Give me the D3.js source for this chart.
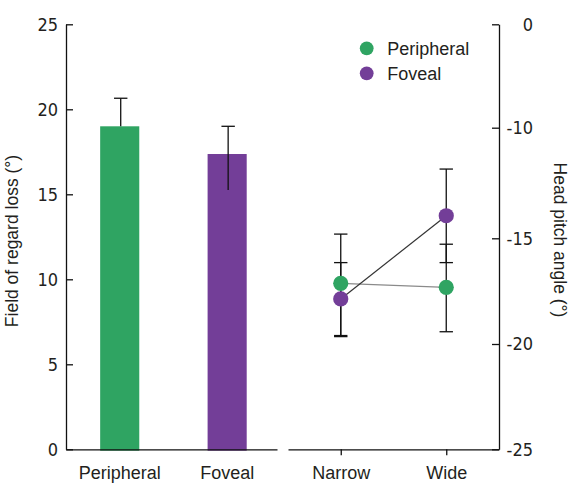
<!DOCTYPE html>
<html>
<head>
<meta charset="utf-8">
<script src="https://cdn.jsdelivr.net/npm/d3@7/dist/d3.min.js"></script>
<style>
  html, body { margin: 0; padding: 0; background: #fff; }
  svg { display: block; font-family: "Liberation Sans", Arial, sans-serif; }
  text { fill: #231f20; }
</style>
</head>
<body>
<svg id="chart" width="575" height="491"></svg>
<script>
// ---- Data ----
const barCategories = ["Peripheral", "Foveal"];
const barValues = [19.0, 17.37];
const barErrHigh = [20.65, 19.0];
const barErrLow = [19.0, 15.25];

const conditions = ["Narrow", "Wide"];
const seriesNames = ["Peripheral", "Foveal"];
const peripheralPitch = [-17.13, -17.32];
const peripheralHigh = [-14.81, -15.28];
const peripheralLow = [-19.6, -19.42];
const fovealPitch = [-17.87, -13.98];
const fovealHigh = [-16.15, -11.87];
const fovealLow = [-19.65, -16.15];

const leftTicks = [0, 5, 10, 15, 20, 25];
const rightTicks = [0, -10, -15, -20, -25];

const colors = { Peripheral: "#2fa462", Foveal: "#733e98" };
const lineColors = { Peripheral: "#8a8a8a", Foveal: "#333333" };

// ---- Layout ----
const svg = d3.select("#chart");
const yTop = 24.3, yBottom = 449.3;
const leftX0 = 66, leftX1 = 277, rightX0 = 288, rightX1 = 499;
const tickFont = "'Liberation Sans Narrow', 'Arial Narrow', 'DejaVu Sans Condensed', sans-serif";

// ---- Scales ----
const yLeft = d3.scaleLinear().domain([0, 25]).range([yBottom, yTop]);
// right axis as drawn in the figure (unequal spacing between labelled ticks)
const yRight = d3.scaleLinear()
  .domain([0, -10, -15, -20, -25])
  .range([yTop, 127.7, 238.3, 344, yBottom]);

const xBar = d3.scaleBand().domain(barCategories)
  .range([leftX0, leftX1]).paddingInner(0.636).paddingOuter(0.3).align(0.53);
const xCond = d3.scalePoint().domain(conditions)
  .range([rightX0, rightX1]).padding(0.5);

// ---- Bars ----
svg.append("g").selectAll("rect").data(barCategories).join("rect")
  .attr("x", d => xBar(d))
  .attr("width", xBar.bandwidth())
  .attr("y", (d, i) => yLeft(barValues[i]))
  .attr("height", (d, i) => yLeft(0) - yLeft(barValues[i]) + 1.4)
  .attr("fill", d => colors[d]);

// bar error bars
const capW = 6.7;
const be = svg.append("g").attr("stroke", "#111").attr("stroke-width", 1.3);
barCategories.forEach((c, i) => {
  const cx = xBar(c) + xBar.bandwidth() / 2 + 1;
  be.append("line").attr("x1", cx).attr("x2", cx)
    .attr("y1", yLeft(barErrHigh[i])).attr("y2", yLeft(barErrLow[i]));
  be.append("line").attr("x1", cx - capW).attr("x2", cx + capW)
    .attr("y1", yLeft(barErrHigh[i])).attr("y2", yLeft(barErrHigh[i]));
});

// ---- Right panel: error bars ----
const seriesData = [
  { name: "Peripheral", v: peripheralPitch, hi: peripheralHigh, lo: peripheralLow },
  { name: "Foveal", v: fovealPitch, hi: fovealHigh, lo: fovealLow }
];
const pe = svg.append("g").attr("stroke", "#111").attr("stroke-width", 1.3);
seriesData.forEach(s => {
  conditions.forEach((c, i) => {
    const cx = xCond(c);
    pe.append("line").attr("x1", cx).attr("x2", cx)
      .attr("y1", yRight(s.hi[i])).attr("y2", yRight(s.lo[i]));
    [s.hi[i], s.lo[i]].forEach(v => {
      pe.append("line").attr("x1", cx - capW).attr("x2", cx + capW)
        .attr("y1", yRight(v)).attr("y2", yRight(v));
    });
  });
});

// lines
const line = d3.line().x((d, i) => xCond(conditions[i])).y(d => yRight(d));
seriesData.forEach(s => {
  svg.append("path").attr("d", line(s.v)).attr("fill", "none")
    .attr("stroke", lineColors[s.name]).attr("stroke-width", 1.2);
});

// points
seriesData.forEach(s => {
  svg.append("g").selectAll("circle").data(s.v).join("circle")
    .attr("cx", (d, i) => xCond(conditions[i]))
    .attr("cy", d => yRight(d))
    .attr("r", 7.6)
    .attr("fill", colors[s.name]);
});

// ---- Axes ----
function styleAxis(g) {
  g.selectAll("path, line").attr("stroke", "#111").attr("stroke-width", 1.3);
  g.selectAll("text").attr("fill", "#231f20").attr("font-family", "Liberation Sans, Arial, sans-serif");
}

const gyl = svg.append("g").attr("transform", `translate(${leftX0},0)`)
  .call(d3.axisLeft(yLeft).tickValues(leftTicks).tickSizeInner(-7).tickSizeOuter(0).tickPadding(8))
  .call(styleAxis);
gyl.selectAll("text").attr("font-size", 18).attr("font-family", tickFont);

const gyr = svg.append("g").attr("transform", `translate(${rightX1},0)`)
  .call(d3.axisRight(yRight).tickValues(rightTicks).tickSizeInner(-7).tickSizeOuter(0).tickFormat(d3.format("d")))
  .call(styleAxis);
gyr.selectAll("text").attr("font-size", 18).attr("font-family", tickFont)
  .attr("text-anchor", "end").attr("x", 34);
gyr.selectAll(".tick text").text(d => d === 0 ? "0" : "-" + Math.abs(d));

const gxl = svg.append("g").attr("transform", `translate(0,${yBottom})`)
  .call(d3.axisBottom(xBar).tickSize(0).tickPadding(17))
  .call(styleAxis);
gxl.selectAll("text").attr("font-size", 18);

const gxr = svg.append("g").attr("transform", `translate(0,${yBottom})`)
  .call(d3.axisBottom(xCond).tickSizeInner(6).tickSizeOuter(0).tickPadding(11))
  .call(styleAxis);
gxr.selectAll("text").attr("font-size", 18);

// ---- Axis titles ----
svg.append("text")
  .attr("transform", "translate(17.5,241) rotate(-90)")
  .attr("text-anchor", "middle").attr("font-size", 17.5)
  .text("Field of regard loss (°)");
svg.append("text")
  .attr("transform", "translate(554,240) rotate(90)")
  .attr("text-anchor", "middle").attr("font-size", 17.5)
  .text("Head pitch angle (°)");

// ---- Legend ----
const legend = svg.append("g");
seriesNames.forEach((n, i) => {
  const cy = 48.3 + i * 25;
  legend.append("circle").attr("cx", 366.7).attr("cy", cy).attr("r", 6.9).attr("fill", colors[n]);
  legend.append("text").attr("x", 387.3).attr("y", cy + 7).attr("font-size", 18).text(n);
});
</script>
</body>
</html>
